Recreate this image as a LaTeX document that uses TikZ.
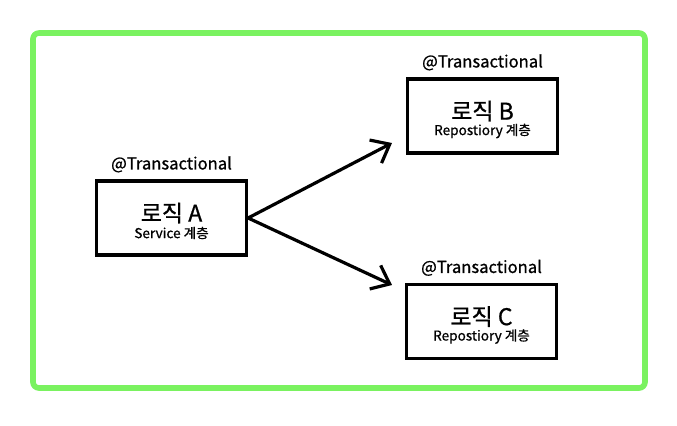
\documentclass[tikz,border=0pt]{standalone}
\usepackage{fontspec}
\setmainfont{Noto Sans CJK KR}
\newfontfamily\medfont[FakeBold=0.8]{Noto Sans CJK KR}
\usepackage{tikz}
\usetikzlibrary{arrows.meta,positioning}

\definecolor{framegreen}{RGB}{122,242,96}

\tikzset{
    logicbox/.style={draw, line width=1.6pt, minimum width=75pt, minimum height=37pt, inner sep=0pt},
    titletext/.style={font=\fontsize{11.5}{13}\medfont},
    layertext/.style={font=\fontsize{6.8}{8}\medfont},
    txlabel/.style={font=\fontsize{8.3}{10}\medfont},
    flow/.style={line width=1.6pt, -{Straight Barb[length=8pt, width=13pt, line width=1.6pt]}}
}

\begin{document}
\begin{tikzpicture}[x=0.5pt, y=-0.5pt]
\useasboundingbox (0,0) rectangle (677,425);

% Outer frame
\draw[framegreen, line width=2.8pt, rounded corners=3pt] (33,33) rectangle (645,388);

% Logic boxes
\node[logicbox] (logicA) at (171.5,218) {};
\node[logicbox] (logicB) at (482.5,116) {};
\node[logicbox] (logicC) at (481.5,321.5) {};

% Box texts
\foreach \boxname/\name/\layer in {logicA/A/Service, logicB/B/Repostiory, logicC/C/Repostiory} {
    \node[titletext] (title\name) at ([yshift=2.5pt]\boxname.center) {로직 \name};
    \node[layertext] (layer\name) at ([yshift=-7.5pt]\boxname.center) {\layer\ 계층};
}

% Annotations
\node[txlabel, above=0pt of logicA] (txA) {@Transactional};
\node[txlabel, above=0pt of logicB] (txB) {@Transactional};
\node[txlabel, above=0pt of logicC] (txC) {@Transactional};

% Calls
\coordinate (endB) at (392,143);
\coordinate (endC) at (392,285);
\draw[flow] (logicA.east) -- (endB);
\draw[flow] (logicA.east) -- (endC);
\end{tikzpicture}
\end{document}
